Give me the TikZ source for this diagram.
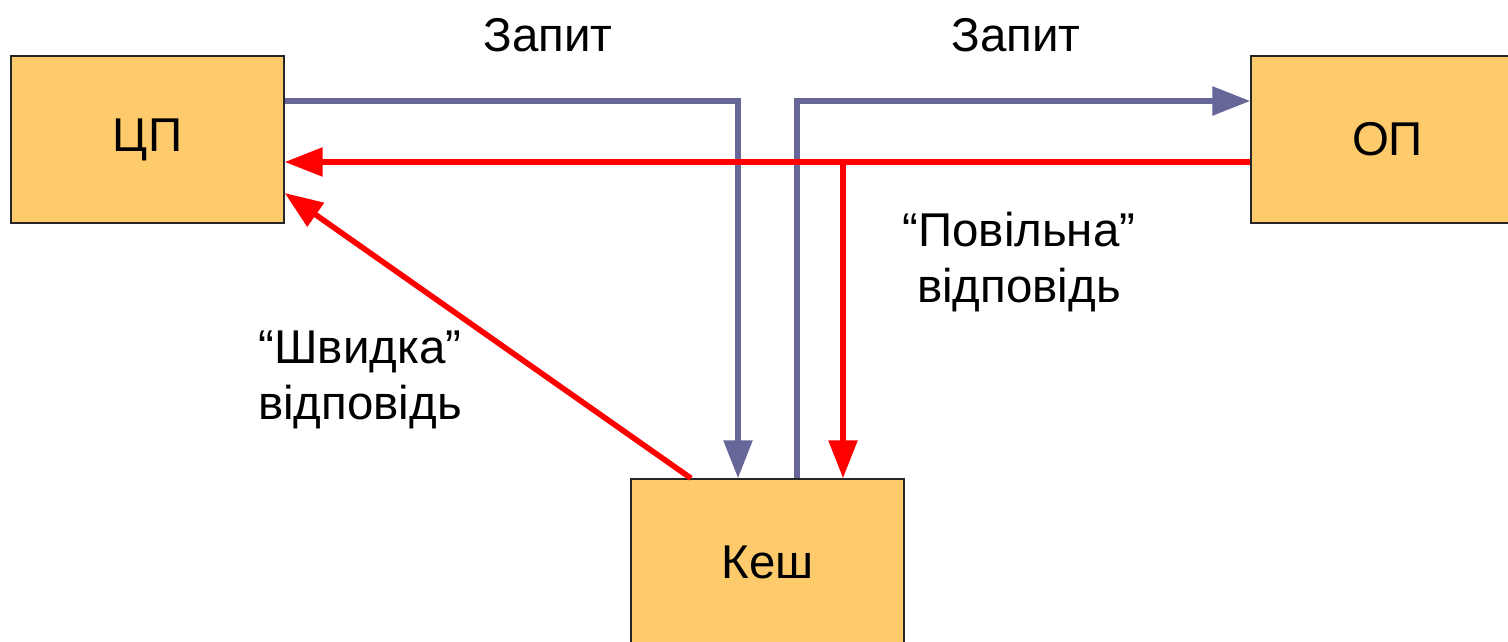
\documentclass[tikz,border=0pt]{standalone}
\usepackage{fontspec}
\setmainfont{Liberation Sans}
\usetikzlibrary{arrows.meta}
\definecolor{boxorange}{RGB}{253,203,107}
\definecolor{reqblue}{RGB}{102,102,153}
\definecolor{ansred}{RGB}{255,0,0}

\begin{document}
\begin{tikzpicture}[x=0.02cm,y=0.02cm,font=\fontsize{27}{32}\selectfont]

	\tikzstyle{mybox}=[draw=black!85,line width=0.8pt,fill=boxorange,minimum width=5.46cm,minimum height=3.34cm]
	\tikzstyle{myreq}=[draw=reqblue,line width=3.2pt,-{Triangle[length=0.76cm,width=0.56cm]}]
	\tikzstyle{myans}=[draw=ansred,line width=3.2pt,-{Triangle[length=0.76cm,width=0.56cm]}]

	\useasboundingbox (0,0) rectangle (1508,642);
	\clip (0,0) rectangle (1508,642);

	\node[mybox] (cpu) at (147.5,502.5) {ЦП};
	\node[mybox] (mem) at (1387.5,502.5) {ОП};
	\node[mybox] (cache) at (767.5,79.5) {Кеш};

	\coordinate (reqline) at (0,541);
	\coordinate (ansline) at (0,480);
	\coordinate (ansdrop) at (843,480);

	% requests
	\draw[myreq] (cpu.east |- reqline) -| ([xshift=-0.59cm]cache.north);
	\draw[myreq] ([xshift=0.59cm]cache.north) |- (mem.west |- reqline);
	\node (reqcpu) at (548,607) {Запит};
	\node (reqmem) at (1016,607) {Запит};

	% answers
	\draw[myans] (mem.west |- ansline) -- (cpu.east |- ansline);
	\draw[myans] (ansdrop) -- (cache.north -| ansdrop);
	\draw[myans] ([xshift=-1.53cm]cache.north) -- ([yshift=-1.07cm]cpu.east);
	\node[align=center] (slowans) at (1019,380) {“Повільна”\\відповідь};
	\node[align=center] (fastans) at (360,262) {“Швидка”\\відповідь};
\end{tikzpicture}
\end{document}
